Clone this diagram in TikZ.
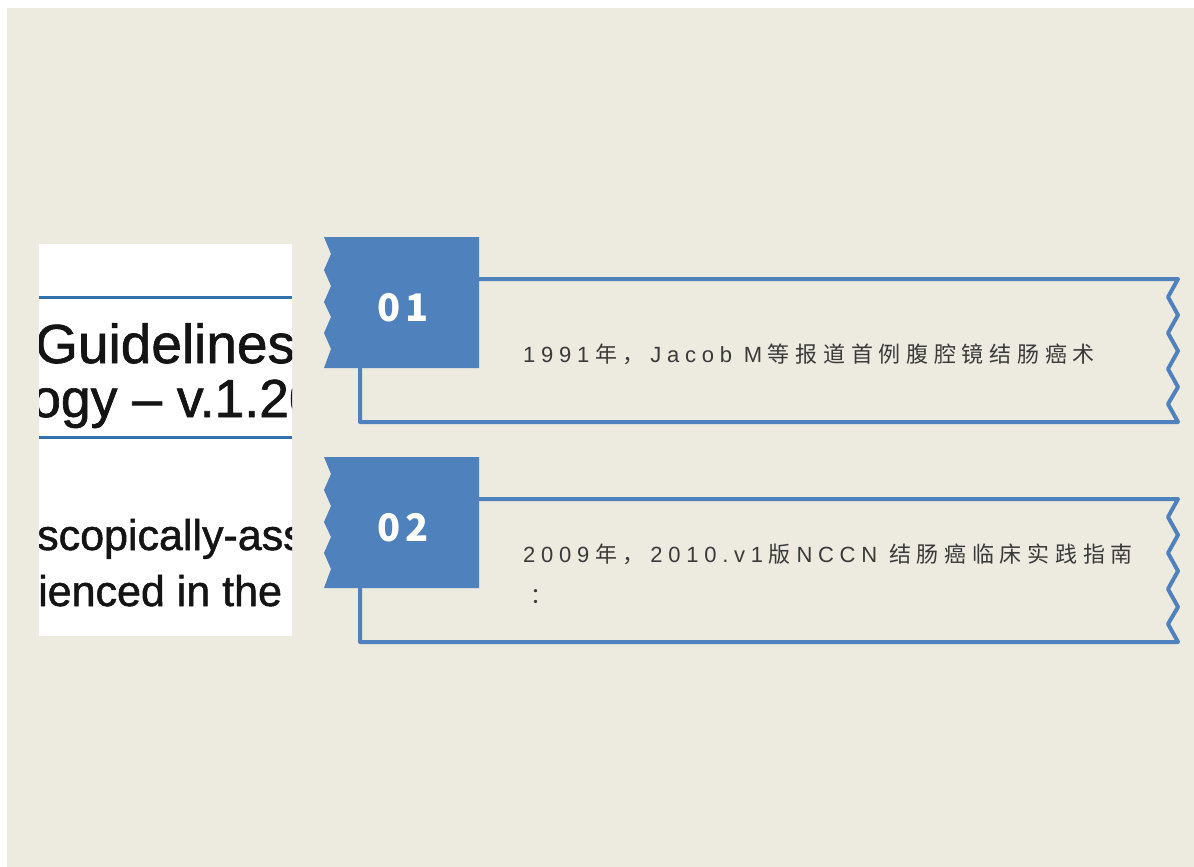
\documentclass[tikz,border=0pt]{standalone}
\usepackage{fontspec}
\setmainfont{Liberation Sans}
\newfontfamily\latf{Liberation Sans}[LetterSpace=26]
\newfontfamily\cjkf{Noto Sans CJK SC}[LetterSpace=26]
\newfontfamily\numf{Noto Sans CJK SC}[LetterSpace=15]
\newfontfamily\imgf{Liberation Sans}[FakeBold=1.2]
\newcommand\gp{\kern0.26em}
\definecolor{bg}{HTML}{EDEAE0}
\definecolor{blu}{HTML}{4F81BD}
\definecolor{txt}{HTML}{3A3A3A}
\definecolor{imgblue}{HTML}{3270AE}
\tikzset{
  numbox/.style={fill=blu},
  frameline/.style={draw=blu, line width=4, line join=round, line cap=round},
  numtext/.style={text=white, inner sep=0, font=\numf\bfseries\fontsize{38}{40}\selectfont},
  desc/.style={anchor=base west, inner sep=0, text=txt, font=\fontsize{22}{26}\selectfont},
  imgtext/.style={anchor=base west, inner sep=0, text=black!92, font=\imgf\fontsize{#1}{#1}\selectfont},
}
\begin{document}
\begin{tikzpicture}[x=1pt,y=-1pt]
\useasboundingbox (0,0) rectangle (1194,867);
\fill[white] (0,0) rectangle (1194,867);
\fill[bg] (7,8) rectangle (1194,867);
% screenshot excerpt
\fill[white] (39,244) rectangle (292,636);
\begin{scope}
  \clip (39,244) rectangle (292,636);
  \draw[imgblue, line width=3] (39,297) -- (292,297);
  \draw[imgblue, line width=3] (39,437) -- (292,437);
  \node[imgtext=55] (g1) at (35,363) {Guidelines};
  \node[imgtext=53.5] (g2) at (31,417) {ogy – v.1.20};
  \node[imgtext=43] (g3) at (37,550) {scopically-ass};
  \node[imgtext=43] (g4) at (38,606) {ienced in the};
\end{scope}
% item 01
\draw[frameline] (470,279) -- (1178,279) -- (1168,297) -- (1178,315) -- (1168,333) -- (1178,351) -- (1168,369) -- (1178,387) -- (1168,404) -- (1178,422) -- (360,422) -- (360,360);
\fill[numbox] (324,237) -- (331,254) -- (324,270) -- (331,286) -- (324,302) -- (331,317) -- (324,333) -- (331,349) -- (324,368) -- (479,368) -- (479,237) -- cycle;
\node[numtext] (n1) at (403,308) {01};
\node[desc] (t1) at (523,362) {{\latf 1991\gp}{\cjkf 年，\gp}{\latf Jacob M\gp}{\cjkf 等报道首例腹腔镜结肠癌术}};
% item 02
\begin{scope}[shift={(0,220)}]
\draw[frameline] (470,279) -- (1178,279) -- (1168,297) -- (1178,315) -- (1168,333) -- (1178,351) -- (1168,369) -- (1178,387) -- (1168,404) -- (1178,422) -- (360,422) -- (360,360);
\fill[numbox] (324,237) -- (331,254) -- (324,270) -- (331,286) -- (324,302) -- (331,317) -- (324,333) -- (331,349) -- (324,368) -- (479,368) -- (479,237) -- cycle;
\node[numtext] (n2) at (403,308) {02};
\end{scope}
\node[desc] (t2) at (523,562) {{\latf 2009\gp}{\cjkf 年，\gp}{\latf 2010.v1\gp}{\cjkf 版\gp}{\latf NCCN }{\cjkf 结肠癌临床实践指南}};
\node[desc] (t2b) at (530,603) {{\cjkf ：}};
\end{tikzpicture}
\end{document}
